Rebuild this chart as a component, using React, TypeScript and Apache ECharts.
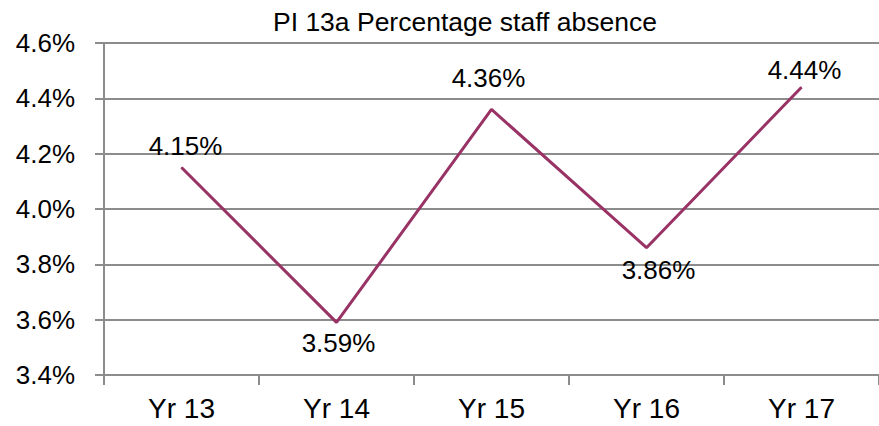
import React, { useEffect, useRef } from "react";
import * as echarts from "echarts";

const categories = ["Yr 13", "Yr 14", "Yr 15", "Yr 16", "Yr 17"];
const absence = [4.15, 3.59, 4.36, 3.86, 4.44];
const labelPositions = ["top", "bottom", "top", "bottom", "top"];
const titleText = "PI 13a Percentage staff absence";

// label placement tweaks (distance from point, horizontal nudge)
const labelDistances = [8, 7, 18, 8.5, 3.5];
const labelNudgeX = [4, 2, -3, 12, 3];

export default function App() {
  const ref = useRef<HTMLDivElement>(null);
  useEffect(() => {
    if (!ref.current) return;
    const chart = echarts.init(ref.current, null, { renderer: "svg" });
    const font = "'Liberation Sans', Arial, sans-serif";
    chart.setOption({
      animation: false,
      backgroundColor: "#ffffff",
      title: {
        text: titleText,
        left: 460,
        top: 3,
        textAlign: "center",
        textStyle: { fontFamily: font, fontSize: 26.5, fontWeight: "normal", color: "#000" },
      },
      grid: { left: 104, right: -8, top: 43, bottom: 51 },
      xAxis: {
        type: "category",
        data: categories,
        boundaryGap: true,
        axisLine: { lineStyle: { color: "#8c8c8c", width: 2 } },
        axisTick: { show: true, length: 10, lineStyle: { color: "#8c8c8c", width: 2 } },
        axisLabel: { fontFamily: font, fontSize: 28, color: "#000", margin: 19 },
      },
      yAxis: {
        type: "value",
        min: 3.4,
        max: 4.6,
        interval: 0.2,
        axisLine: { show: true, lineStyle: { color: "#8c8c8c", width: 2 } },
        axisTick: { show: true, length: 9, lineStyle: { color: "#8c8c8c", width: 2 } },
        splitLine: { lineStyle: { color: "#8c8c8c", width: 2 } },
        axisLabel: {
          fontFamily: font,
          fontSize: 26,
          color: "#000",
          margin: 29,
          formatter: (v: number) => v.toFixed(1) + "%",
        },
      },
      series: [
        {
          type: "line",
          data: absence.map((v, i) => ({
            value: v,
            label: {
              position: labelPositions[i],
              distance: labelDistances[i],
              offset: [labelNudgeX[i], 0],
            },
          })),
          symbol: "circle",
          symbolSize: 1,
          showSymbol: true,
          lineStyle: { color: "#993366", width: 3 },
          itemStyle: { color: "#993366" },
          label: {
            show: true,
            fontFamily: font,
            fontSize: 26,
            color: "#000",
            formatter: (p: any) => Number(p.value).toFixed(2) + "%",
          },
        },
      ],
    });
    return () => chart.dispose();
  }, []);
  return (
    <div
      ref={ref}
      style={{ position: "fixed", left: 0, top: 0, width: 879, height: 426, background: "#fff" }}
    />
  );
}
